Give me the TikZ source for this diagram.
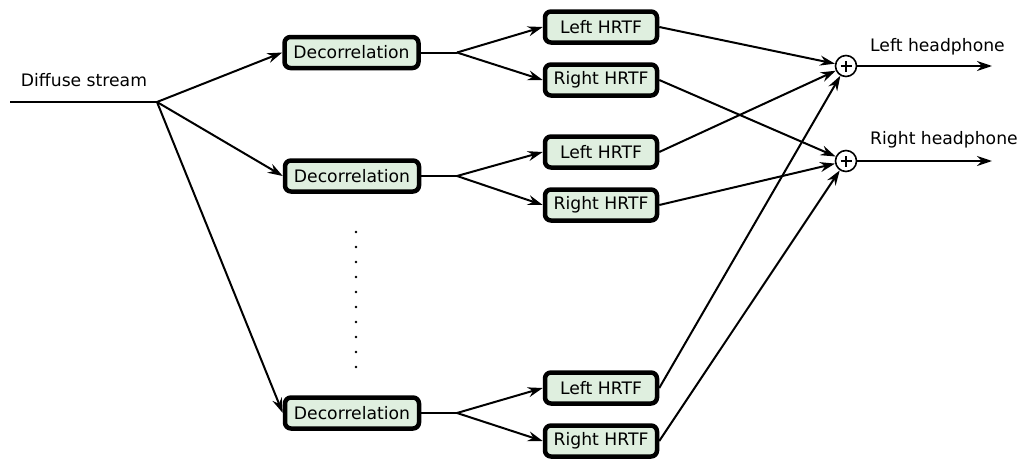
\documentclass[tikz,border=0pt]{standalone}
\usepackage{fontspec}
\setmainfont{DejaVu Sans}
\usetikzlibrary{arrows.meta}
\definecolor{boxfill}{RGB}{223,239,223}
\begin{document}
\begin{tikzpicture}[x=1pt,y=-1pt,
  font=\fontsize{17.2}{20}\selectfont,
  block/.style={draw=black,fill=boxfill,line width=4.5pt,rounded corners=6pt,
    inner sep=0pt,minimum height=31pt},
  decbox/.style={block,minimum width=134pt},
  hrtfbox/.style={block,minimum width=112pt},
  sumnode/.style={draw=black,circle,line width=1.6pt,minimum size=21pt,inner sep=0pt,fill=white},
  wire/.style={line width=2pt},
  arr/.style={wire,-{Stealth[length=15pt,width=10pt,inset=5pt]}},
  lbl/.style={inner sep=0pt}]
\useasboundingbox (0,0) rectangle (1021,463);

% input line and its split point
\coordinate (in) at (10,102);
\coordinate (split) at (157,102);
\node[lbl] (inlbl) at (84,80) {Diffuse stream};

% decorrelation blocks
\node[decbox] (dec1) at (351.5,52.5) {Decorrelation};
\node[decbox] (dec2) at (352,176) {Decorrelation};
\node[decbox] (dec3) at (352,413) {Decorrelation};

% HRTF blocks
\node[hrtfbox] (lh1) at (601,27) {Left HRTF};
\node[hrtfbox] (rh1) at (601,80) {Right HRTF};
\node[hrtfbox] (lh2) at (601,152) {Left HRTF};
\node[hrtfbox] (rh2) at (601,205) {Right HRTF};
\node[hrtfbox] (lh3) at (601,388) {Left HRTF};
\node[hrtfbox] (rh3) at (601,441) {Right HRTF};

% summing junctions
\node[sumnode] (sum1) at (846,66) {};
\node[sumnode] (sum2) at (846,161) {};
\foreach \s in {sum1,sum2}{
  \draw[line width=1.6pt] ([xshift=-5.5pt]\s.center) -- ([xshift=5.5pt]\s.center);
  \draw[line width=1.6pt] ([yshift=-5.5pt]\s.center) -- ([yshift=5.5pt]\s.center);
}

% outputs
\coordinate (outL) at (992,66);
\coordinate (outR) at (992,161);
\node[lbl,anchor=west] (lblL) at (870,47) {Left headphone};
\node[lbl,anchor=west] (lblR) at (870,140) {Right headphone};

% fork points after each decorrelator
\coordinate (f1) at (457,52.5);
\coordinate (f2) at (457,176);
\coordinate (f3) at (457,413);

% input distribution
\draw[wire] (in) -- (split);
\draw[arr] (split) -- (dec1.west);
\draw[arr] (split) -- (dec2.west);
\draw[arr] (split) -- (dec3.west);

% decorrelators to HRTFs
\foreach \d/\f/\l/\r in {dec1/f1/lh1/rh1, dec2/f2/lh2/rh2, dec3/f3/lh3/rh3}{
  \draw[wire] (\d.east) -- (\f);
  \draw[arr] (\f) -- (\l.west);
  \draw[arr] (\f) -- (\r.west);
}

% HRTFs to summing junctions
\foreach \l in {lh1,lh2,lh3}{ \draw[arr] (\l.east) -- (sum1); }
\foreach \r in {rh1,rh2,rh3}{ \draw[arr] (\r.east) -- (sum2); }

% outputs
\draw[arr] (sum1) -- (outL);
\draw[arr] (sum2) -- (outR);

% ellipsis between channel groups
\foreach \i in {0,...,9}{
  \fill (356,232+15*\i) circle (1.3pt);
}
\end{tikzpicture}
\end{document}
